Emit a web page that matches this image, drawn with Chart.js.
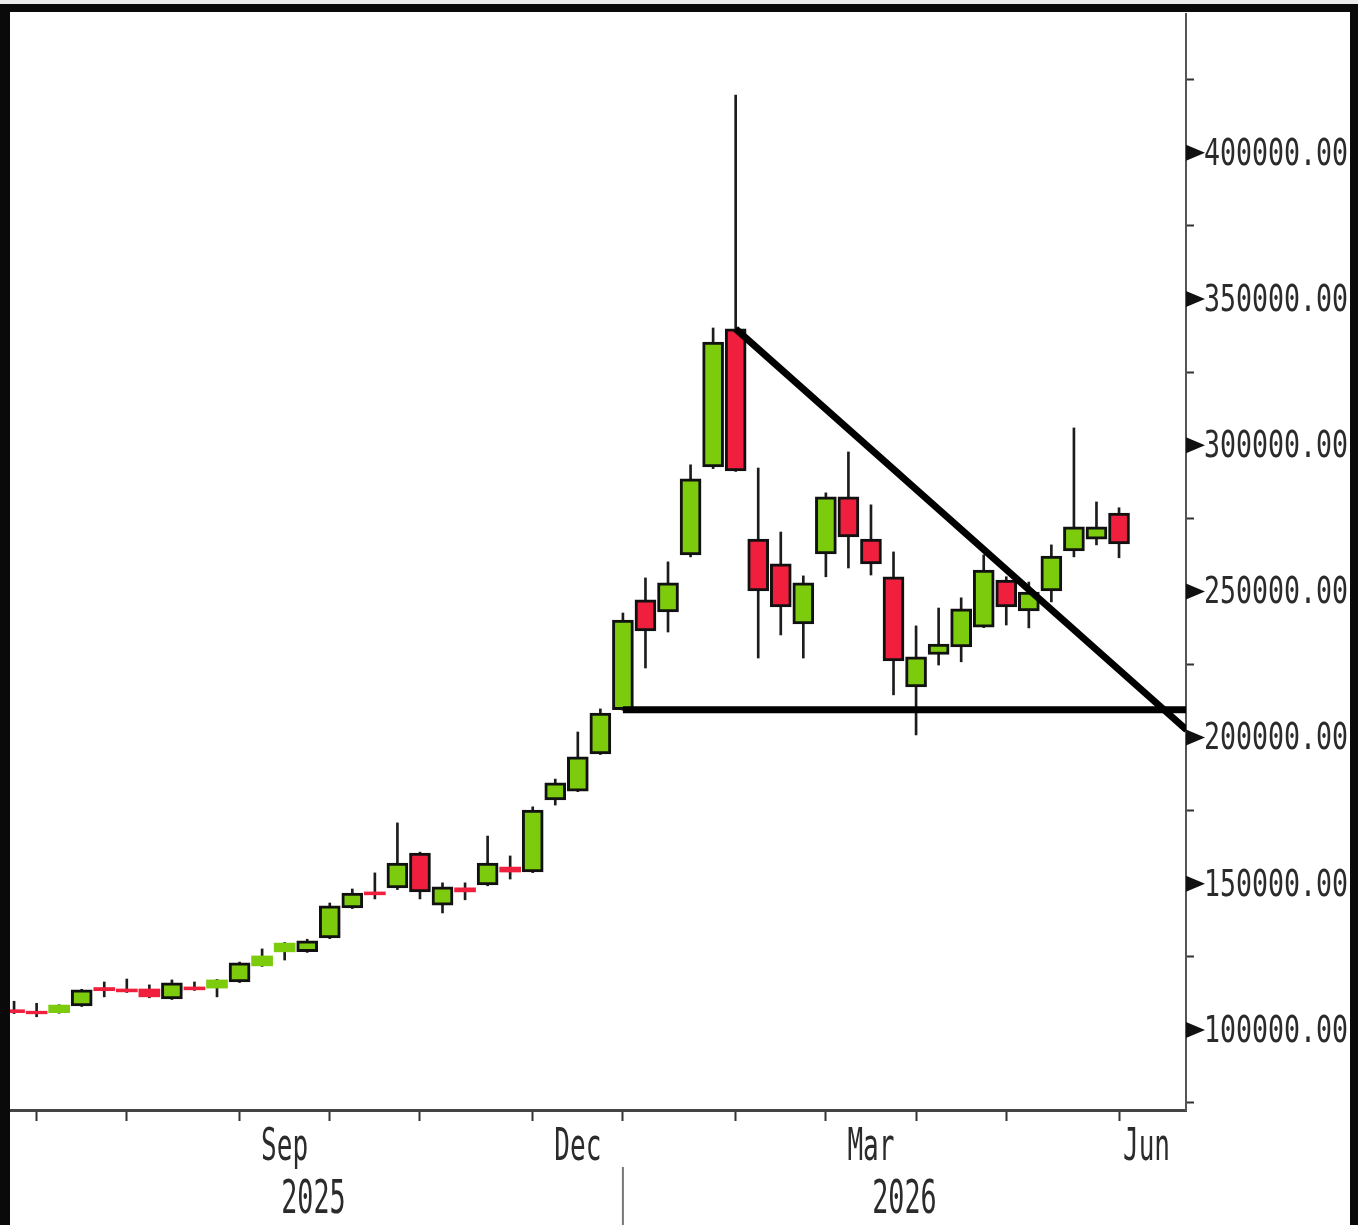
<!DOCTYPE html>
<html>
<head>
<meta charset="utf-8">
<title>Weekly candles</title>
<script src="https://cdn.jsdelivr.net/npm/chart.js@4.4.0/dist/chart.umd.min.js"></script>
<style>
    html, body { margin: 0; padding: 0; background: #ececec; }
    .frame {
        position: absolute;
        left: 0;
        top: 4px;
        width: 1358px;
        height: 1221px;
        box-sizing: border-box;
        border-top: 8px solid #0a0a0a;
        border-left: 10px solid #0a0a0a;
        border-right: 8px solid #0a0a0a;
        background: #fff;
    }
    .chart-box { position: relative; width: 1340px; height: 1213px; }
</style>
</head>
<body>
<div class="frame">
    <div class="chart-box"><canvas id="candleChart"></canvas></div>
</div>
<script>
// Weekly OHLC, one entry per week (index 0 = first week shown)
const opens  = [106900, 106400, 105900, 108200, 114500, 114000, 114000, 110600, 114700, 114300,
                116400, 121900, 126700, 126800, 131500, 141700, 147200, 148600, 160500, 142700,
                148600, 149600, 155700, 154000, 178700, 181700, 194400, 209500, 247100, 243000,
                262500, 292600, 339800, 267900, 259400, 238900, 262800, 282300, 267900, 255000,
                217300, 228400, 231000, 237800, 253900, 243300, 250200, 263800, 267900, 276800];
const highs  = [109800, 109100, 108600, 113900, 116400, 117400, 115400, 117100, 116400, 117300,
                123200, 127700, 129900, 131000, 143400, 148200, 153700, 170800, 160800, 150300,
                150300, 166300, 159500, 176300, 185800, 201900, 209800, 242600, 254600, 260100,
                293300, 340100, 419800, 292200, 270300, 255300, 283700, 297700, 279600, 263500,
                238200, 244300, 247800, 262500, 255000, 253200, 265900, 305900, 280600, 278600];
const lows   = [105600, 104500, 105700, 108000, 111300, 112800, 111000, 110400, 113500, 111300,
                116200, 121700, 123900, 126500, 131200, 141500, 144800, 148000, 144800, 140000,
                144500, 149300, 151600, 153800, 176900, 181500, 194200, 209300, 223800, 236100,
                261800, 292000, 291000, 227200, 235100, 227200, 255000, 258000, 255600, 214600,
                200900, 224800, 225900, 237600, 238500, 237500, 246400, 261800, 265900, 261500];
const closes = [105900, 105500, 108500, 113700, 113400, 113000, 111300, 116100, 113700, 117100,
                122900, 125300, 129700, 130500, 142400, 146800, 146200, 157100, 147200, 148900,
                147200, 157100, 154000, 175200, 184500, 193400, 208400, 240200, 236500, 252900,
                288500, 335300, 291200, 250200, 244700, 252900, 282300, 268600, 259400, 226200,
                227600, 232000, 244000, 257300, 244700, 249800, 262100, 272100, 272100, 266200];

// x axis: week index where each month starts
const monthStarts = [1, 5, 10, 14, 18, 23, 27, 32, 36, 40, 44, 49];
const monthNames  = ['Jul', 'Aug', 'Sep', 'Oct', 'Nov', 'Dec', 'Jan', 'Feb', 'Mar', 'Apr', 'May', 'Jun'];
const labeledMonths = ['Sep', 'Dec', 'Mar', 'Jun'];
const yearNames = ['2025', '2026'];
const yearBreak = 27;

// y axis ticks (labels on multiples of 50000)
const priceTicks = [75000, 100000, 125000, 150000, 175000, 200000, 225000, 250000,
                    275000, 300000, 325000, 350000, 375000, 400000, 425000];

// drawn trend lines [week, price]
const resistance = [[32, 339800], [52, 202600]];
const support    = [[27, 209500], [52, 209500]];

const GREEN = '#7ccb0c';
const RED = '#f01f3e';

const isUp = i => closes[i] >= opens[i];

function drawSquashed(ctx, text, x, y, size, sx, align, baseline) {
    ctx.save();
    ctx.translate(x, y);
    ctx.scale(sx, 1);
    ctx.font = size + 'px "DejaVu Sans Mono"';
    ctx.textAlign = align;
    ctx.textBaseline = baseline;
    ctx.fillStyle = '#2b2b2b';
    ctx.fillText(text, 0, 0);
    ctx.restore();
}

// Axis decorations: arrow ticks, squeezed labels, year divider
const axisLabels = {
    id: 'axisLabels',
    afterDraw(chart) {
        const ctx = chart.ctx;
        const area = chart.chartArea;
        const xs = chart.scales.x;
        const ys = chart.scales.y;

        ys.ticks.forEach(t => {
            if (t.value % 50000 !== 0) return;
            const y = ys.getPixelForValue(t.value);
            ctx.beginPath();
            ctx.moveTo(area.right, y - 8);
            ctx.lineTo(area.right + 19, y);
            ctx.lineTo(area.right, y + 8);
            ctx.closePath();
            ctx.fillStyle = '#111';
            ctx.fill();
            drawSquashed(ctx, t.value.toFixed(2), area.right + 18, y + 2, 38, 0.70, 'left', 'middle');
        });

        monthNames.forEach((name, k) => {
            if (!labeledMonths.includes(name)) return;
            const left = xs.getPixelForValue(monthStarts[k]);
            const right = k + 1 < monthStarts.length ? xs.getPixelForValue(monthStarts[k + 1]) : area.right - 12;
            drawSquashed(ctx, name, (left + right) / 2, area.bottom + 50, 45, 0.58, 'center', 'alphabetic');
        });

        const breakX = xs.getPixelForValue(yearBreak);
        drawSquashed(ctx, yearNames[0], (area.left + breakX) / 2 - 3, area.bottom + 103, 47, 0.57, 'center', 'alphabetic');
        drawSquashed(ctx, yearNames[1], (breakX + area.right) / 2, area.bottom + 103, 47, 0.57, 'center', 'alphabetic');

        ctx.save();
        ctx.strokeStyle = '#777';
        ctx.lineWidth = 2;
        ctx.beginPath();
        ctx.moveTo(breakX, area.bottom + 57);
        ctx.lineTo(breakX, area.bottom + 120);
        ctx.stroke();
        ctx.restore();
    }
};

const bodies = opens.map((o, i) => ({ x: i, y: [o, closes[i]] }));
const wicks = highs.map((h, i) => ({ x: i, y: [lows[i], h] }));

new Chart(document.getElementById('candleChart'), {
    type: 'bar',
    data: {
        datasets: [
            {
                type: 'line',
                data: resistance.map(([x, y]) => ({ x, y })),
                borderColor: '#000',
                borderWidth: 7,
                pointRadius: 0,
                order: 0
            },
            {
                type: 'line',
                data: support.map(([x, y]) => ({ x, y })),
                borderColor: '#000',
                borderWidth: 7,
                pointRadius: 0,
                order: 0
            },
            {
                data: bodies,
                grouped: false,
                barThickness: 21,
                backgroundColor: ctx => isUp(ctx.dataIndex) ? GREEN : RED,
                borderColor: '#111',
                borderWidth: ctx => Math.abs(closes[ctx.dataIndex] - opens[ctx.dataIndex]) < 3500 ? 0 : 3,
                borderSkipped: false,
                order: 1
            },
            {
                data: wicks,
                grouped: false,
                barThickness: 2,
                backgroundColor: '#1c1c1c',
                borderWidth: 0,
                order: 2
            }
        ]
    },
    options: {
        responsive: true,
        maintainAspectRatio: false,
        animation: false,
        events: [],
        layout: { padding: { top: 2, left: 0, right: 0, bottom: 0 } },
        plugins: {
            legend: { display: false },
            tooltip: { enabled: false }
        },
        scales: {
            x: {
                type: 'linear',
                min: -0.18,
                max: 51.97,
                offset: false,
                afterBuildTicks: scale => {
                    scale.ticks = monthStarts.map(v => ({ value: v }));
                },
                afterFit: scale => { scale.height = 115; },
                ticks: { display: false },
                grid: {
                    offset: false,
                    drawOnChartArea: false,
                    drawTicks: true,
                    tickLength: 11,
                    tickWidth: 2,
                    tickColor: '#333'
                },
                border: { display: true, color: '#444', width: 3 }
            },
            y: {
                position: 'right',
                min: 72600,
                max: 447500,
                beginAtZero: false,
                afterBuildTicks: scale => {
                    scale.ticks = priceTicks.map(v => ({ value: v }));
                },
                afterFit: scale => { scale.width = 164; },
                ticks: { display: false },
                grid: {
                    drawOnChartArea: false,
                    drawTicks: true,
                    tickLength: 8,
                    tickWidth: 2,
                    tickColor: ctx => (ctx.tick && ctx.tick.value % 50000 === 0) ? 'rgba(0,0,0,0)' : '#333'
                },
                border: { display: true, color: '#555', width: 2 }
            }
        }
    },
    plugins: [axisLabels]
});
</script>
</body>
</html>
